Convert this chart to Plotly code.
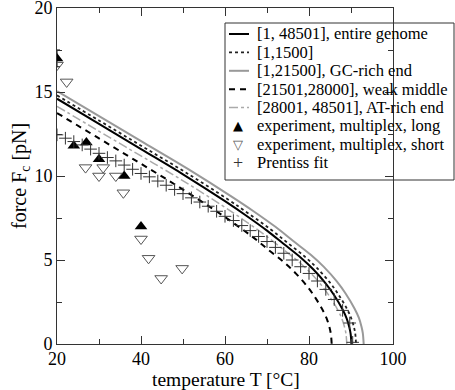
import plotly.graph_objects as go

# ---- data ----
T_entire = [20, 30, 40, 50, 60, 65, 70, 74, 78, 81, 84, 86, 88, 89, 89.6, 89.9, 90.1]
F_entire = [14.6, 13.1, 11.6, 10.1, 8.5, 7.65, 6.75, 5.95, 5.15, 4.45, 3.6, 2.9, 2.05, 1.5, 1.0, 0.63, 0]

T_1500 = [20, 30.16, 40.31, 50.47, 60.63, 65.7, 70.78, 74.84, 78.91, 81.95, 85.0, 87.03, 89.06, 90.08, 90.69, 91.0, 91.2]
F_1500 = [14.8, 13.28, 11.76, 10.24, 8.62, 7.75, 6.84, 6.03, 5.22, 4.51, 3.65, 2.94, 2.08, 1.52, 1.01, 0.64, 0]

T_gc = [20, 30.42, 40.83, 51.25, 61.67, 66.88, 72.08, 76.25, 80.42, 83.54, 86.67, 88.75, 90.83, 91.88, 92.5, 92.81, 93.02]
F_gc = [15.05, 13.51, 11.96, 10.41, 8.76, 7.89, 6.96, 6.13, 5.31, 4.59, 3.71, 2.99, 2.11, 1.55, 1.03, 0.65, 0]

T_weak = [20, 29.33, 38.66, 47.99, 57.31, 61.98, 66.64, 70.37, 74.1, 76.9, 79.7, 81.57, 83.43, 84.37, 84.93, 85.21, 85.4]
F_weak = [13.75, 12.34, 10.93, 9.51, 8.01, 7.21, 6.36, 5.6, 4.85, 4.19, 3.39, 2.73, 1.93, 1.41, 0.94, 0.59, 0]

T_at = [20, 29.84, 39.69, 49.53, 59.37, 64.29, 69.21, 73.15, 77.09, 80.04, 82.99, 84.96, 86.93, 87.91, 88.5, 88.8, 89.0]
F_at = [14.15, 12.69, 11.24, 9.79, 8.24, 7.41, 6.54, 5.77, 4.99, 4.31, 3.49, 2.81, 1.99, 1.45, 0.97, 0.61, 0]

T_long = [20, 24, 27, 30, 36, 40]
F_long = [17.0, 11.8, 12.0, 11.0, 10.0, 7.0]
E_long = [0.5, 0, 0, 0, 0, 0]

T_short = [20, 22.3, 26.8, 30, 31, 34, 35.8, 40, 41.8, 44.8, 49.8]
F_short = [16.6, 15.6, 10.5, 10.0, 10.5, 10.0, 9.0, 6.25, 5.1, 3.9, 4.5]

T_prentiss = [20, 22, 24, 26, 28, 30, 32, 34, 36, 38, 40, 42, 44, 46, 48, 50, 52, 54, 56,
              58, 60, 62, 64, 66, 68, 70, 72, 74, 76, 78, 80, 82, 84, 86, 88, 89.7, 90.4]
F_prentiss = [12.45, 12.25, 12.05, 11.85, 11.6, 11.35, 11.1, 10.9, 10.65, 10.4, 10.15, 9.95,
              9.7, 9.45, 9.2, 8.95, 8.7, 8.45, 8.2, 7.9, 7.6, 7.35, 7.05, 6.75, 6.4, 6.1,
              5.75, 5.4, 5.0, 4.6, 4.2, 3.75, 3.25, 2.65, 2.0, 1.25, 0.1]

x_ticks = [20, 40, 60, 80, 100]
y_ticks = [0, 5, 10, 15, 20]

legend_labels = [
    "[1, 48501], entire genome",
    "[1,1500]",
    "[1,21500], GC-rich end",
    "[21501,28000], weak middle",
    "[28001, 48501], AT-rich end",
    "experiment, multiplex, long",
    "experiment, multiplex, short",
    "Prentiss fit",
]

SERIF = "Liberation Serif"

# ---- styles ----
line_styles = [
    dict(color="black", width=2),
    dict(color="#222222", width=1.8, dash="dot"),
    dict(color="#999999", width=2),
    dict(color="black", width=2, dash="6px,5px"),
    dict(color="#aaaaaa", width=1.5, dash="dashdot"),
]

fig = go.Figure()
curves = [(T_entire, F_entire), (T_1500, F_1500), (T_gc, F_gc), (T_weak, F_weak), (T_at, F_at)]
for (tx, fy), ls, name in zip(curves, line_styles, legend_labels[:5]):
    fig.add_trace(go.Scatter(x=tx, y=fy, mode="lines", name=name, line=ls,
                             line_shape="spline", showlegend=False))

fig.add_trace(go.Scatter(x=T_long, y=F_long, mode="markers", name=legend_labels[5], showlegend=False,
                         marker=dict(symbol="triangle-up", size=11, color="black"),
                         error_y=dict(type="data", array=E_long, color="black", thickness=1, width=3)))
fig.add_trace(go.Scatter(x=T_short, y=F_short, mode="markers", name=legend_labels[6], showlegend=False,
                         marker=dict(symbol="triangle-down-open", size=11, color="#555555",
                                     line=dict(width=1))))
fig.add_trace(go.Scatter(x=T_prentiss, y=F_prentiss, mode="markers", name=legend_labels[7],
                         showlegend=False,
                         marker=dict(symbol="cross-thin", size=9, color="#333333",
                                     line=dict(width=1, color="#333333"))))

axis_common = dict(
    showgrid=False, zeroline=False, showline=True, linecolor="#333333", linewidth=1,
    mirror="ticks", ticks="inside", ticklen=8, tickwidth=1, tickcolor="#333333",
    tickfont=dict(family=SERIF, size=18, color="black"), automargin=False,
    ticklabeloverflow="allow",
)
fig.update_xaxes(range=[20, 100], tickvals=x_ticks, ticktext=[str(v) for v in x_ticks],
                 minor=dict(dtick=10, ticks="inside", ticklen=5, tickcolor="#333333", showgrid=False),
                 ticklabelstandoff=-2,
                 **axis_common)
fig.update_yaxes(range=[0, 20], tickvals=y_ticks, ticktext=[str(v) for v in y_ticks],
                 minor=dict(dtick=2.5, ticks="inside", ticklen=5, tickcolor="#333333", showgrid=False),
                 **axis_common)

# ---- plot geometry (pixels) for the hand-drawn legend ----
L, R, T, B = 57, 62, 8, 46
W, H = 455, 390
pw, ph = W - L - R, H - T - B


def px(x):
    return (x - L) / pw


def py(y):
    return (H - B - y) / ph


annotations = [
    dict(text="temperature T [°C]", x=px(226), y=py(379), xref="paper", yref="paper",
         showarrow=False, xanchor="center", yanchor="middle",
         font=dict(family=SERIF, size=19.5, color="black")),
    dict(text="force F<sub>c</sub> [pN]", x=px(20), y=py(176), xref="paper", yref="paper",
         showarrow=False, xanchor="center", yanchor="middle", textangle=-90,
         font=dict(family=SERIF, size=20, color="black")),
]
shapes = [
    dict(type="rect", xref="paper", yref="paper", x0=px(225), x1=px(454), y0=py(180), y1=py(23),
         line=dict(color="#333333", width=1), fillcolor="white", layer="below"),
]

row0, drow = 34, 18.4
for i, lab in enumerate(legend_labels):
    yc = row0 + drow * i
    annotations.append(dict(text=lab, x=px(255), y=py(yc), xref="paper", yref="paper",
                            showarrow=False, xanchor="left", yanchor="middle",
                            font=dict(family=SERIF, size=16.5, color="black")))
    if i < 5:
        shapes.append(dict(type="line", xref="paper", yref="paper", x0=px(229), x1=px(249),
                           y0=py(yc), y1=py(yc), line=line_styles[i], layer="above"))

glyphs = [("▲", "black", 13), ("▽", "#555555", 13), ("+", "#333333", 18)]
for j, (g, c, s) in enumerate(glyphs):
    yc = row0 + drow * (5 + j)
    annotations.append(dict(text=g, x=px(238), y=py(yc), xref="paper", yref="paper",
                            showarrow=False, xanchor="center", yanchor="middle",
                            font=dict(family="DejaVu Sans" if j < 2 else SERIF, size=s, color=c)))

fig.update_layout(
    width=W, height=H,
    margin=dict(l=L, r=R, t=T, b=B),
    paper_bgcolor="white", plot_bgcolor="white",
    showlegend=False,
    annotations=annotations,
    shapes=shapes,
)

fig.write_html("out.html", config={"displayModeBar": False},
               post_script="document.body.style.margin='0';document.body.style.padding='0';")
